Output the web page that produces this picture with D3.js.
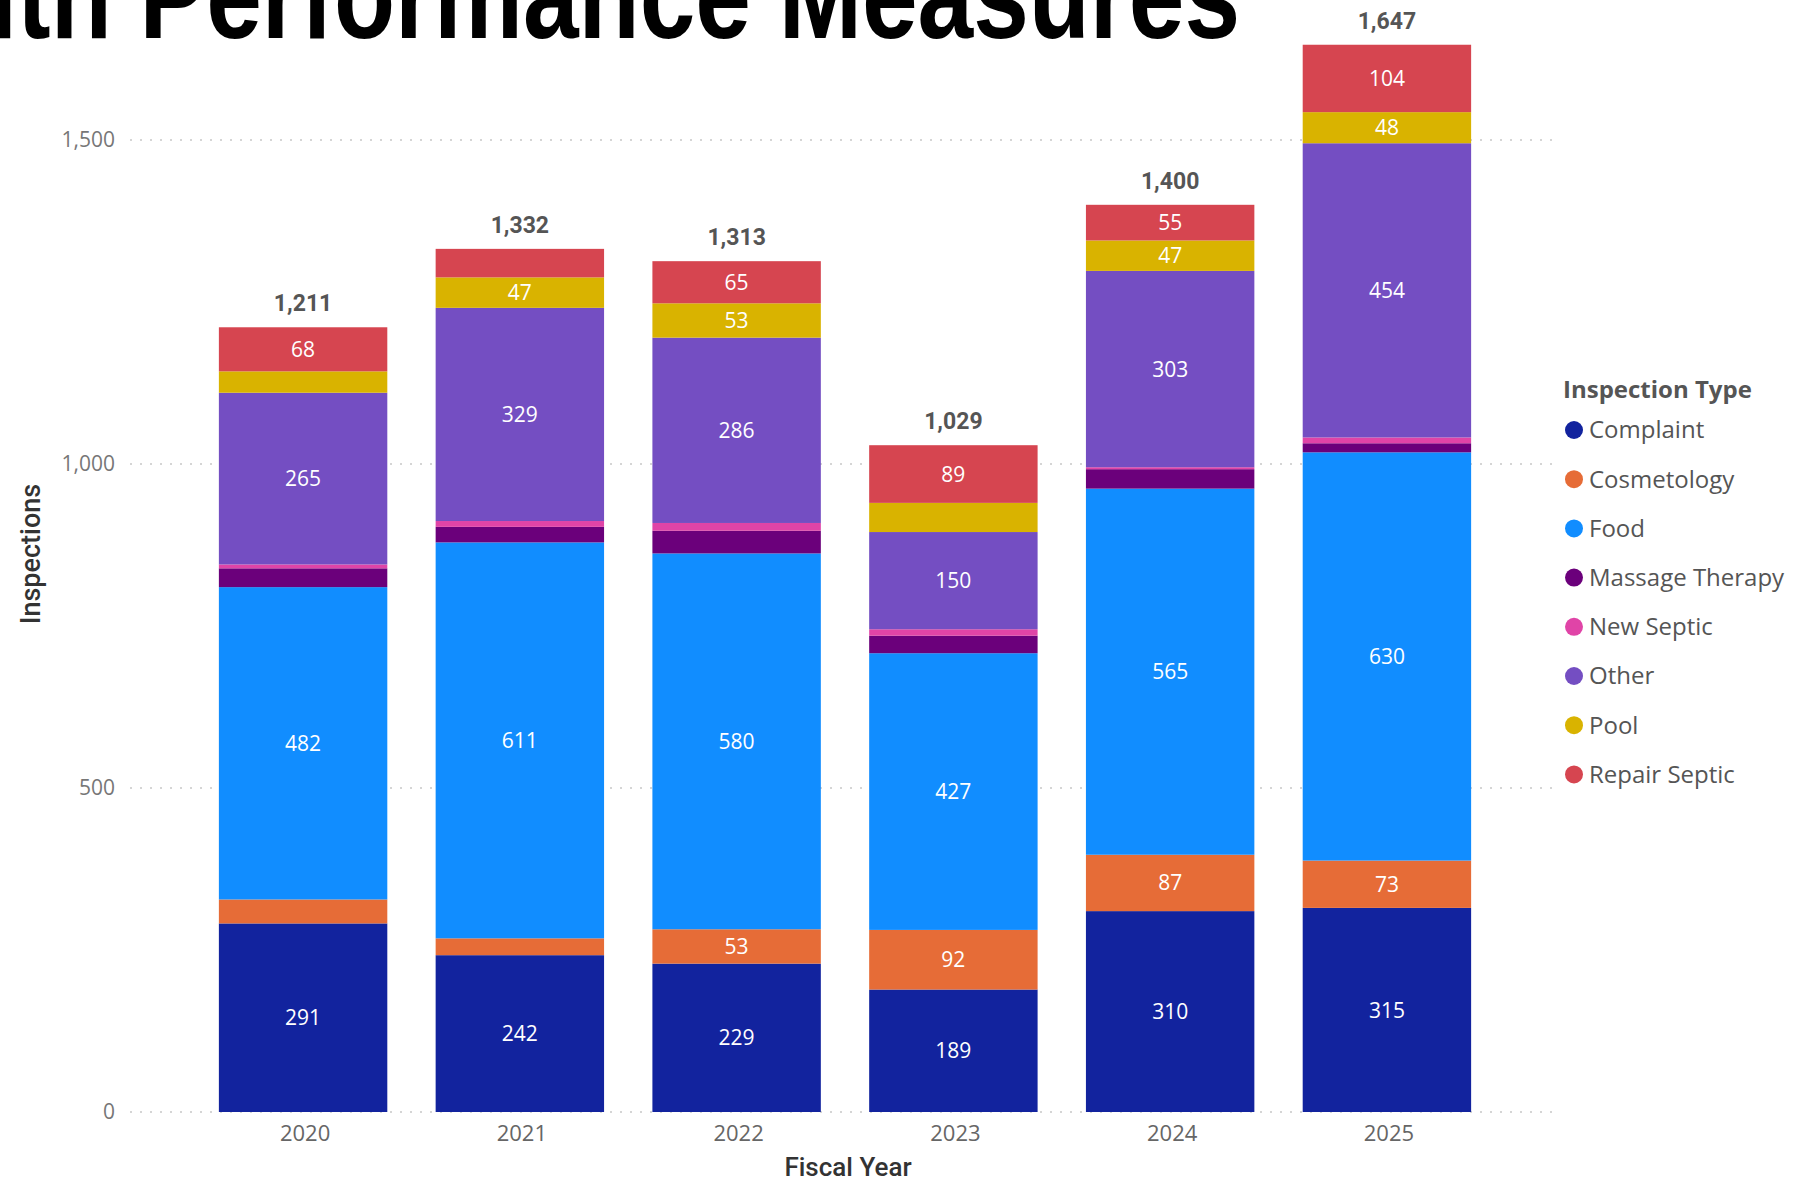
<!DOCTYPE html>
<meta charset="utf-8">
<style>
  body { margin: 0; background: #fff; }
</style>
<body>
<div id="chart"></div>

<script src="https://d3js.org/d3.v7.min.js"></script>
<script>
// data
var years = ["2020", "2021", "2022", "2023", "2024", "2025"];
var types = ["Complaint", "Cosmetology", "Food", "Massage Therapy", "New Septic", "Other", "Pool", "Repair Septic"];
var complaint   = [291, 242, 229, 189, 310, 315];
var cosmetology = [37, 26, 53, 92, 87, 73];
var food        = [482, 611, 580, 427, 565, 630];
var massage     = [29, 24, 35, 27, 30, 14];
var newSeptic   = [6, 9, 12, 10, 3, 9];
var other       = [265, 329, 286, 150, 303, 454];
var pool        = [33, 47, 53, 45, 47, 48];
var repair      = [68, 44, 65, 89, 55, 104];
var yTicks      = [0, 500, 1000, 1500];

var colors = ["#12239E", "#E66C37", "#118DFF", "#6B007B", "#E044A7", "#744EC2", "#D9B300", "#D64550"];

// build rows for d3.stack
var series = [complaint, cosmetology, food, massage, newSeptic, other, pool, repair];
var rows = years.map(function(yr, i) {
  var r = {year: yr};
  types.forEach(function(t, j) { r[t] = series[j][i]; });
  r.total = d3.sum(series, function(s) { return s[i]; });
  return r;
});

var W = 1798, H = 1185;
var uiFont = "'Open Sans', 'Noto Sans', sans-serif";
var dinFont = "Roboto, 'Noto Sans', sans-serif";

var svg = d3.select("#chart").append("svg")
    .attr("width", W)
    .attr("height", H);

// scales
var x = d3.scaleBand().domain(years).range([130, 1560])
    .paddingInner(0.223).paddingOuter(0.41);
var y = d3.scaleLinear().domain([0, 1500]).range([1112, 140]);
var color = d3.scaleOrdinal().domain(types).range(colors);

// big title, cut off by the top edge like in the slide
// (stretched vertically to look like the condensed slide font)
svg.append("text")
    .attr("transform", "translate(1240,38) scale(1,1.25)")
    .attr("text-anchor", "end")
    .style("font-family", "'Liberation Sans', Arial, sans-serif")
    .style("font-weight", "bold")
    .style("font-size", "100px")
    .attr("fill", "#000")
    .text("Health Performance Measures");

// dotted gridlines
svg.append("g")
  .selectAll("line")
    .data(yTicks)
  .enter().append("line")
    .attr("x1", 130)
    .attr("x2", 1560)
    .attr("y1", function(d) { return y(d); })
    .attr("y2", function(d) { return y(d); })
    .attr("stroke", "#c8c8c8")
    .attr("stroke-width", 1.5)
    .attr("stroke-dasharray", "2,8");

// y axis
var yAxis = svg.append("g")
    .attr("transform", "translate(115,0)")
    .call(d3.axisLeft(y).tickValues(yTicks).tickFormat(d3.format(",")).tickSize(0).tickPadding(0));
yAxis.select(".domain").remove();
yAxis.selectAll("text")
    .style("font-family", uiFont)
    .style("font-size", "21px")
    .attr("fill", "#777");

// x axis
var xAxis = svg.append("g")
    .attr("transform", "translate(2,1112)")
    .call(d3.axisBottom(x).tickSize(0).tickPadding(13));
xAxis.select(".domain").remove();
xAxis.selectAll("text")
    .style("font-family", uiFont)
    .style("font-size", "22px")
    .attr("fill", "#666");

// axis titles
svg.append("text")
    .attr("transform", "translate(31,554) rotate(-90)")
    .attr("text-anchor", "middle")
    .attr("dy", "0.35em")
    .style("font-family", dinFont)
    .style("font-weight", "500")
    .style("font-size", "27px")
    .attr("fill", "#333")
    .text("Inspections");

svg.append("text")
    .attr("x", 848)
    .attr("y", 1167)
    .attr("dy", "0.35em")
    .attr("text-anchor", "middle")
    .style("font-family", dinFont)
    .style("font-weight", "500")
    .style("font-size", "26px")
    .attr("fill", "#333")
    .text("Fiscal Year");

// stacked bars
var stacked = d3.stack().keys(types)(rows);

var layers = svg.append("g")
  .selectAll("g")
    .data(stacked)
  .enter().append("g")
    .attr("fill", function(d) { return color(d.key); });

layers.selectAll("rect")
    .data(function(d) { return d; })
  .enter().append("rect")
    .attr("x", function(d) { return x(d.data.year); })
    .attr("y", function(d) { return y(d[1]); })
    .attr("width", x.bandwidth())
    .attr("height", function(d) { return y(d[0]) - y(d[1]); });

// segment labels, only where they fit
layers.selectAll("text")
    .data(function(d) { return d.filter(function(p) { return y(p[0]) - y(p[1]) >= 30; }); })
  .enter().append("text")
    .attr("x", function(d) { return x(d.data.year) + x.bandwidth() / 2; })
    .attr("y", function(d) { return (y(d[0]) + y(d[1])) / 2; })
    .attr("dy", "0.36em")
    .attr("text-anchor", "middle")
    .style("font-family", uiFont)
    .style("font-size", "21px")
    .attr("fill", "#fff")
    .text(function(d) { return d[1] - d[0]; });

// totals on top
svg.append("g")
  .selectAll("text")
    .data(rows)
  .enter().append("text")
    .attr("x", function(d) { return x(d.year) + x.bandwidth() / 2; })
    .attr("y", function(d) { return y(d.total) - 16; })
    .attr("text-anchor", "middle")
    .style("font-family", dinFont)
    .style("font-weight", "bold")
    .style("font-size", "23px")
    .attr("fill", "#555")
    .text(function(d) { return d3.format(",")(d.total); });

// legend
var legend = svg.append("g").attr("transform", "translate(1563,0)");

legend.append("text")
    .attr("x", 0)
    .attr("y", 390)
    .attr("dy", "0.35em")
    .style("font-family", uiFont)
    .style("font-weight", "bold")
    .style("font-size", "24px")
    .attr("fill", "#555")
    .text("Inspection Type");

var item = legend.selectAll(".item")
    .data(types)
  .enter().append("g")
    .attr("class", "item")
    .attr("transform", function(d, i) { return "translate(0," + (430 + i * 49.2) + ")"; });

item.append("circle")
    .attr("cx", 11)
    .attr("cy", 0)
    .attr("r", 9)
    .attr("fill", function(d) { return color(d); });

item.append("text")
    .attr("x", 26)
    .attr("dy", "0.35em")
    .style("font-family", uiFont)
    .style("font-size", "24px")
    .attr("fill", "#555")
    .text(function(d) { return d; });

</script>
</body>
